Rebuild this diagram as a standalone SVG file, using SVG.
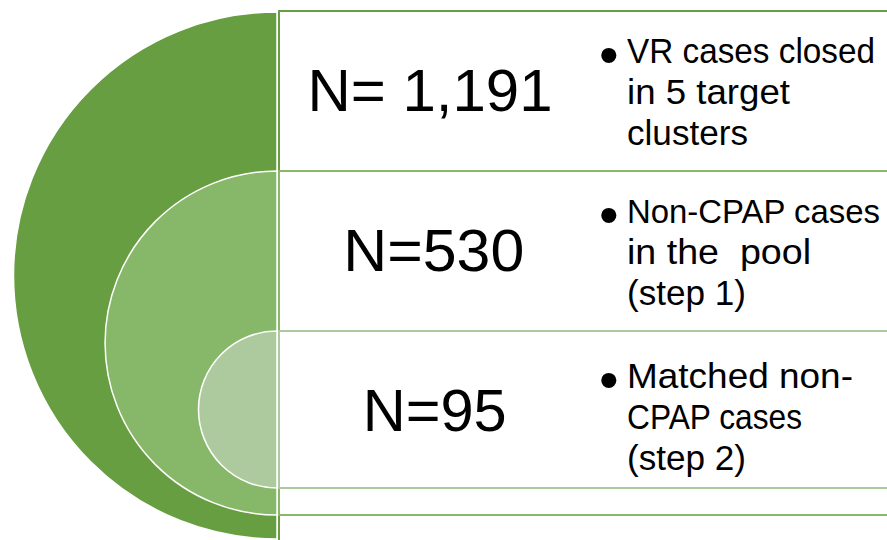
<svg xmlns="http://www.w3.org/2000/svg" width="887" height="540" viewBox="0 0 887 540">
<style>
.big{font-family:"Liberation Sans",Arial,sans-serif;font-size:60px;fill:#000}
.txt{font-family:"Liberation Sans",Arial,sans-serif;font-size:35px;fill:#000}
.bul{font-family:"Liberation Sans",Arial,sans-serif;font-size:56px;fill:#000}
.box{fill:#fff;stroke-width:2}
.disk{stroke:#fff;stroke-width:1.5}
</style>
<rect width="887" height="540" fill="#fff"/>
<g id="level1">
<rect class="box" x="279" y="11" width="640" height="540" stroke="#679e41"/>
<path class="disk" d="M277,12 A263.5,263.5 0 0 0 277,539 Z" fill="#679e41"/>
<text class="big" x="307.5" y="111" textLength="245" lengthAdjust="spacingAndGlyphs">N= 1,191</text>
<text class="bul" x="599" y="74">•</text>
<text class="txt" x="627" y="63.3" textLength="248" lengthAdjust="spacingAndGlyphs">VR cases closed</text>
<text class="txt" x="627" y="104.3" textLength="163" lengthAdjust="spacingAndGlyphs">in 5 target</text>
<text class="txt" x="627" y="145" textLength="121" lengthAdjust="spacingAndGlyphs">clusters</text>
</g>
<g id="level2">
<rect class="box" x="279" y="171" width="640" height="344" stroke="#87b86a"/>
<path class="disk" d="M277,171 A172,172 0 0 0 277,515 Z" fill="#87b86a"/>
<text class="big" x="343.3" y="271" textLength="181" lengthAdjust="spacingAndGlyphs">N=530</text>
<text class="bul" x="599" y="234">•</text>
<text class="txt" x="627" y="223.3" style="font-size:33px" textLength="253" lengthAdjust="spacingAndGlyphs">Non-CPAP cases</text>
<text class="txt" x="627" y="264.3" textLength="184" lengthAdjust="spacingAndGlyphs" xml:space="preserve">in the  pool</text>
<text class="txt" x="627" y="305" textLength="119" lengthAdjust="spacingAndGlyphs">(step 1)</text>
</g>
<g id="level3">
<rect class="box" x="279" y="331" width="640" height="157" stroke="#adc99e"/>
<path class="disk" d="M277,331 A78.5,78.5 0 0 0 277,488 Z" fill="#adc99e"/>
<text class="big" x="362.7" y="431" textLength="144" lengthAdjust="spacingAndGlyphs">N=95</text>
<text class="bul" x="599" y="399">•</text>
<text class="txt" x="627" y="388.3" textLength="226" lengthAdjust="spacingAndGlyphs">Matched non-</text>
<text class="txt" x="627" y="429.3" textLength="175" lengthAdjust="spacingAndGlyphs">CPAP cases</text>
<text class="txt" x="627" y="470" textLength="119" lengthAdjust="spacingAndGlyphs">(step 2)</text>
</g>
<g id="connectors"/>
</svg>
